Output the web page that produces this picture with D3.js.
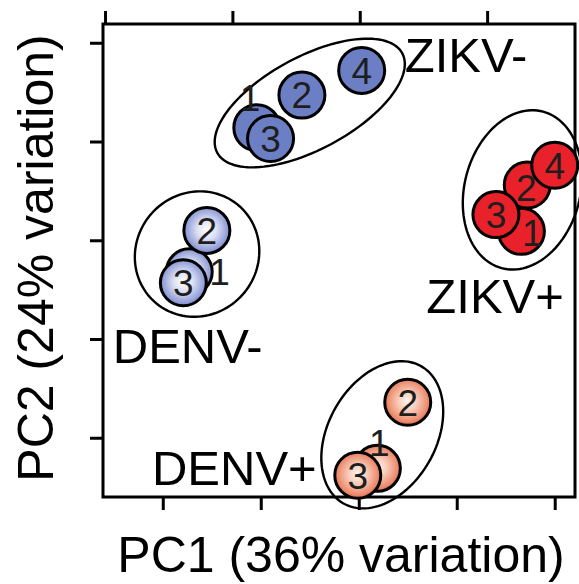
<!DOCTYPE html>
<html>
<head>
<meta charset="utf-8">
<script src="https://cdn.jsdelivr.net/npm/d3@7"></script>
<style>
    body { margin: 0; background: #fff; }
    text { font-family: "Liberation Sans", Arial, sans-serif; }
</style>
</head>
<body>
<svg id="pca-graph"></svg>
<script>
// groups of samples (PCA scores)
var groups = ["ZIKV-", "ZIKV+", "DENV-", "DENV+"];
var sampleIds = ["1", "2", "3", "4"];

var zikvNegPC1 = [-10.4, -5.8, -9.0, 0.3];
var zikvNegPC2 = [11.4, 14.7, 10.3, 17.2];
var zikvPosPC1 = [16.6, 17.2, 14.0, 20.0];
var zikvPosPC2 = [0.9, 5.6, 2.6, 7.6];
var denvNegPC1 = [-17.3, -15.5, -17.9];
var denvNegPC2 = [-3.2, 1.0, -4.3];
var denvPosPC1 = [1.9, 5.0, -0.1];
var denvPosPC2 = [-23.1, -16.4, -23.8];

// where the sample numbers were put (repelled labels)
var zikvNegLabelPC1 = [-11.1, -5.8, -9.0, 0.3];
var zikvNegLabelPC2 = [14.4, 14.7, 10.3, 17.2];
var zikvPosLabelPC1 = [17.7, 17.1, 14.0, 20.0];
var zikvPosLabelPC2 = [0.8, 5.3, 2.6, 7.6];
var denvNegLabelPC1 = [-14.2, -15.5, -17.9];
var denvNegLabelPC2 = [-3.2, 1.0, -4.3];
var denvPosLabelPC1 = [2.1, 5.0, -0.1];
var denvPosLabelPC2 = [-20.5, -16.4, -23.8];

// group ellipses: centre, semi axes, angle (degrees)
var ellipseCX = [-5.0, 16.7, -16.5, 2.4];
var ellipseCY = [13.9, 5.1, -1.4, -19.7];
var ellipseA = [10.7, 8.2, 6.5, 8.0];
var ellipseB = [4.7, 5.9, 6.2, 5.5];
var ellipseAngle = [28, 75, 45, 60];

// group name annotations
var groupLabelPC1 = [4.7, 6.9, -25.1, -21.1];
var groupLabelPC2 = [17.0, -7.4, -12.4, -24.8];

var tickValuesPC = [-20, -10, 0, 10, 20];
var topTickValues = [0, 1, 2, 3];

var xTitle = "PC1 (36% variation)";
var yTitle = "PC2 (24% variation)";

createPcaGraph();

function createPcaGraph() {
    var margin = { top: 24, right: 4, bottom: 87, left: 103 },
        width = 579 - margin.left - margin.right,
        height = 584 - margin.top - margin.bottom

    var x = d3.scaleLinear()
        .domain([-26.1, 22.07])
        .range([0, width])

    var y = d3.scaleLinear()
        .domain([-26.0, 21.9])
        .range([height, 0])

    // ticks of the panel above
    var xTop = d3.scaleLinear()
        .domain([-0.016, 3.69])
        .range([0, width])

    var svg = d3.select("#pca-graph")
        .attr("width", 579)
        .attr("height", 584)
        .append("g")
        .attr("transform", "translate(" + margin.left + "," + margin.top + ")")

    var defs = svg.append("defs");
    var gradDenvNeg = defs.append("radialGradient").attr("id", "grad-denv-neg")
        .attr("cx", "50%").attr("cy", "48%").attr("r", "52%");
    gradDenvNeg.append("stop").attr("offset", "0%").attr("stop-color", "#ffffff");
    gradDenvNeg.append("stop").attr("offset", "40%").attr("stop-color", "#dde1f4");
    gradDenvNeg.append("stop").attr("offset", "85%").attr("stop-color", "#95a1d8");
    gradDenvNeg.append("stop").attr("offset", "100%").attr("stop-color", "#7785c6");

    var gradDenvPos = defs.append("radialGradient").attr("id", "grad-denv-pos")
        .attr("cx", "50%").attr("cy", "48%").attr("r", "52%");
    gradDenvPos.append("stop").attr("offset", "0%").attr("stop-color", "#fff6f2");
    gradDenvPos.append("stop").attr("offset", "40%").attr("stop-color", "#f8cbb8");
    gradDenvPos.append("stop").attr("offset", "85%").attr("stop-color", "#ec8a6c");
    gradDenvPos.append("stop").attr("offset", "100%").attr("stop-color", "#dc6a4c");

    var fills = ["#6c7fc5", "#e8212a", "url(#grad-denv-neg)", "url(#grad-denv-pos)"];

    // frame
    svg.append("rect")
        .attr("width", width)
        .attr("height", height)
        .attr("fill", "none")
        .attr("stroke", "black")
        .attr("stroke-width", 3)

    // axes, no labels
    var axes = [
        svg.append("g").attr("transform", "translate(0," + height + ")")
            .call(d3.axisBottom(x).tickValues(tickValuesPC).tickSize(13).tickFormat("")),
        svg.append("g")
            .call(d3.axisLeft(y).tickValues(tickValuesPC).tickSize(13).tickFormat("")),
        svg.append("g")
            .call(d3.axisTop(xTop).tickValues(topTickValues).tickSize(13).tickFormat(""))
    ];
    axes.forEach(function (a) {
        a.select(".domain").remove();
        a.selectAll("line").attr("stroke", "black").attr("stroke-width", 3);
    });

    var samples = [
        { pc1: zikvNegPC1, pc2: zikvNegPC2, lx: zikvNegLabelPC1, ly: zikvNegLabelPC2 },
        { pc1: zikvPosPC1, pc2: zikvPosPC2, lx: zikvPosLabelPC1, ly: zikvPosLabelPC2 },
        { pc1: denvNegPC1, pc2: denvNegPC2, lx: denvNegLabelPC1, ly: denvNegLabelPC2 },
        { pc1: denvPosPC1, pc2: denvPosPC2, lx: denvPosLabelPC1, ly: denvPosLabelPC2 }
    ];

    // ellipses
    var line = d3.line().curve(d3.curveLinearClosed);
    groups.forEach(function (g, i) {
        var t = ellipseAngle[i] * Math.PI / 180;
        var pts = d3.range(0, 360, 3).map(function (deg) {
            var u = deg * Math.PI / 180;
            var ex = ellipseA[i] * Math.cos(u), ey = ellipseB[i] * Math.sin(u);
            return [x(ellipseCX[i] + ex * Math.cos(t) - ey * Math.sin(t)),
                    y(ellipseCY[i] + ex * Math.sin(t) + ey * Math.cos(t))];
        });
        svg.append("path")
            .attr("d", line(pts))
            .attr("fill", "none")
            .attr("stroke", "black")
            .attr("stroke-width", 2.4)
    });

    // points with their sample number
    groups.forEach(function (g, i) {
        var s = samples[i];
        s.pc1.forEach(function (v, j) {
            svg.append("circle")
                .attr("cx", x(v))
                .attr("cy", y(s.pc2[j]))
                .attr("r", 23)
                .attr("fill", fills[i])
                .attr("stroke", "black")
                .attr("stroke-width", 3)
            svg.append("text")
                .attr("x", x(s.lx[j]))
                .attr("y", y(s.ly[j]))
                .attr("dy", "0.36em")
                .attr("text-anchor", "middle")
                .style("font-size", "37px")
                .attr("fill", "#1e1e1e")
                .text(sampleIds[j])
        });
    });

    // group names
    svg.selectAll(".group-label")
        .data(groups)
        .enter().append("text")
        .attr("class", "group-label")
        .attr("x", function (d, i) { return x(groupLabelPC1[i]); })
        .attr("y", function (d, i) { return y(groupLabelPC2[i]); })
        .style("font-size", "49px")
        .text(function (d) { return d; })

    // axis titles
    svg.append("text")
        .attr("x", 341 - margin.left)
        .attr("y", 572 - margin.top)
        .attr("text-anchor", "middle")
        .style("font-size", "50px")
        .text(xTitle)

    svg.append("text")
        .attr("transform", "translate(" + (53 - margin.left) + "," + (258 - margin.top) + ") rotate(-90)")
        .attr("text-anchor", "middle")
        .style("font-size", "50px")
        .text(yTitle)
}
</script>
</body>
</html>
